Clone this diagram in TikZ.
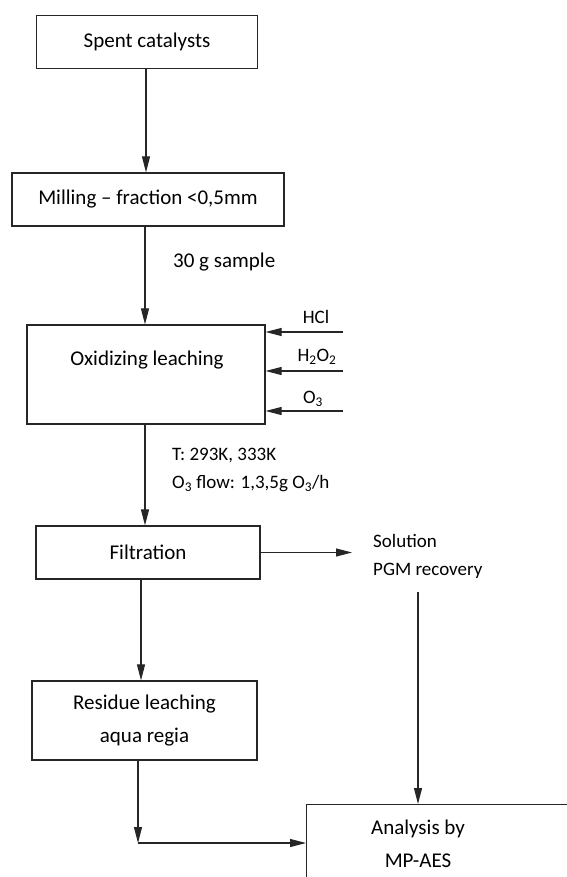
\documentclass[tikz,border=0pt]{standalone}
\usepackage{fontspec}
\setmainfont{Carlito}
\usetikzlibrary{arrows.meta}
\begin{document}
\begin{tikzpicture}[x=1pt,y=-1pt,
  box/.style={draw=black!85, line width=1.2pt, rectangle, inner sep=0pt, align=center, font=\fontsize{21}{33}\selectfont},
  txt/.style={inner sep=0pt, align=center, font=\fontsize{21}{33}\selectfont},
  lbl/.style={inner sep=0pt, align=left, font=\fontsize{19}{28}\selectfont},
  arr/.style={draw=black!85, line width=1.1pt, -{Triangle[length=16pt,width=8pt]}}]
\useasboundingbox (0,0) rectangle (566,877);
\fill[white] (0,0) rectangle (566,877);
\node[box, minimum width=221pt, minimum height=53pt] (spent) at (147,42) {Spent catalysts};
\node[box, minimum width=272pt, minimum height=53pt] (mill) at (148,199.5) {Milling – fraction <0,5mm};
\node[box, minimum width=238pt, minimum height=99pt] (oxi) at (146,374.5) {};
\node[txt] (oxit) at (147,360) {Oxidizing leaching};
\node[box, minimum width=224pt, minimum height=53pt] (filt) at (148,552.5) {Filtration};
\node[box, minimum width=225pt, minimum height=79pt] (res) at (144.5,720.5) {Residue leaching\\aqua regia};
\node[box, minimum width=320pt, minimum height=120pt, anchor=north west] (ana) at (306,804) {};
\node[txt] (anat) at (418,844) {Analysis by\\MP-AES};
\node[lbl, anchor=west, font=\fontsize{21}{28}\selectfont] (samp) at (173,262) {30 g sample};
\node[lbl, anchor=west] (cond) at (172,470) {T: 293K, 333K\\O\textsubscript{3} flow: 1,3,5g O\textsubscript{3}/h};
\node[lbl, anchor=west] (sol) at (373,556) {Solution\\PGM recovery};
\node[lbl] (hcl) at (316,317) {HCl};
\node[lbl] (hoo) at (317,357) {H\textsubscript{2}O\textsubscript{2}};
\node[lbl] (ozo) at (313,399) {O\textsubscript{3}};
\coordinate (hcls) at (343,332);
\coordinate (hoos) at (343,371);
\coordinate (ozos) at (343,411);
\coordinate (corner) at (138,843);
\coordinate (filtend) at (352,552.5);
\coordinate (solend) at (418,592);
\draw[arr] (spent.south -| 146,0) -- (mill.north -| 146,0);
\draw[arr] (mill.south -| 145,0) -- (oxi.north -| 145,0);
\draw[arr] (hcls) -- (hcls -| oxi.east);
\draw[arr] (hoos) -- (hoos -| oxi.east);
\draw[arr] (ozos) -- (ozos -| oxi.east);
\draw[arr] (oxi.south -| 145,0) -- (filt.north -| 145,0);
\draw[arr] (filt.east) -- (filtend);
\draw[arr] (filt.south -| 141,0) -- (res.north -| 141,0);
\draw[arr] (res.south -| corner) -- (corner);
\draw[arr] (corner) -- (corner -| ana.west);
\draw[arr] (solend) -- (ana.north -| solend);
\end{tikzpicture}
\end{document}
